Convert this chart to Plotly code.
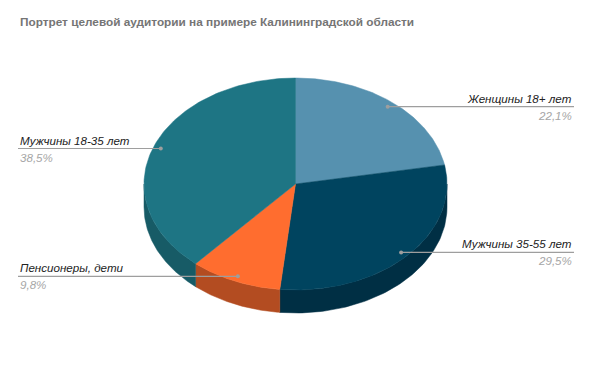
import numpy as np
import plotly.graph_objects as go

title = "Портрет целевой аудитории на примере Калининградской области"
labels = ["Женщины 18+ лет", "Мужчины 35-55 лет", "Пенсионеры, дети", "Мужчины 18-35 лет"]
values = [22.1, 29.5, 9.8, 38.5]
pct_text = ["22,1%", "29,5%", "9,8%", "38,5%"]
top_colors = ["#5691af", "#00445f", "#ff6d2f", "#1e7584"]
side_colors = ["#3f6f88", "#002f44", "#b34c21", "#175b66"]

W, H = 591, 365
cx, cy, rx, ry, depth = 295.5, 184, 151.5, 106, 23
label_r = 0.95
left_x, right_x = 18, 574


def pt(t_deg, r=1.0, dy=0.0):
    t = np.radians(t_deg)
    return cx + r * rx * np.sin(t), cy - r * ry * np.cos(t) + dy


fig = go.Figure()
total = sum(values)
angles = np.concatenate([[0], np.cumsum(values) / total * 360])

# side walls (front half only)
for i in range(len(values)):
    a, b = max(angles[i], 90), min(angles[i + 1], 270)
    if b <= a:
        continue
    ts = np.linspace(a, b, 80)
    xs_t, ys_t = pt(ts)
    xs_b, ys_b = pt(ts[::-1], dy=depth)
    xs = np.concatenate([xs_t, xs_b, [xs_t[0]]])
    ys = np.concatenate([ys_t, ys_b, [ys_t[0]]])
    fig.add_trace(go.Scatter(x=xs, y=ys, fill="toself", fillcolor=side_colors[i], mode="lines",
                             line=dict(color=side_colors[i], width=0.5), hoverinfo="skip", showlegend=False))

# top faces
for i in range(len(values)):
    ts = np.linspace(angles[i], angles[i + 1], 120)
    xs, ys = pt(ts)
    xs = np.concatenate([[cx], xs, [cx]])
    ys = np.concatenate([[cy], ys, [cy]])
    fig.add_trace(go.Scatter(x=xs, y=ys, fill="toself", fillcolor=top_colors[i], mode="lines",
                             line=dict(color=top_colors[i], width=0.5), hoverinfo="skip", showlegend=False))

annotations = []
for i in range(len(values)):
    mid = (angles[i] + angles[i + 1]) / 2
    dx, dy = pt(mid, r=label_r)
    right = np.sin(np.radians(mid)) > 0
    ex = right_x if right else left_x
    fig.add_trace(go.Scatter(x=[dx, ex], y=[dy, dy], mode="lines", line=dict(color="#9e9e9e", width=1.2),
                             hoverinfo="skip", showlegend=False))
    fig.add_trace(go.Scatter(x=[dx], y=[dy], mode="markers", marker=dict(color="#9e9e9e", size=4),
                             hoverinfo="skip", showlegend=False))
    xa = "right" if right else "left"
    annotations.append(dict(x=ex, y=dy, xref="x", yref="y", text=f"<i>{labels[i]}</i>", showarrow=False,
                            xanchor=xa, yanchor="bottom", yshift=0,
                            font=dict(family="Liberation Sans, Arial", size=11.6, color="#222222")))
    annotations.append(dict(x=ex, y=dy, xref="x", yref="y", text=f"<i>{pct_text[i]}</i>", showarrow=False,
                            xanchor=xa, yanchor="top", yshift=0,
                            font=dict(family="Liberation Sans, Arial", size=11.6, color="#a6a6a6")))

annotations.append(dict(x=18, y=22, xref="x", yref="y", text=f"<b>{title}</b>", showarrow=False,
                        xanchor="left", yanchor="middle",
                        font=dict(family="Liberation Sans, Arial", size=11.8, color="#757575")))

fig.update_layout(
    width=W, height=H, autosize=False,
    margin=dict(l=0, r=0, t=0, b=0),
    paper_bgcolor="white", plot_bgcolor="white",
    xaxis=dict(range=[0, W], visible=False, fixedrange=True),
    yaxis=dict(range=[H, 0], visible=False, fixedrange=True),
    annotations=annotations,
    showlegend=False,
)

fig.write_html("out.html", config={"displayModeBar": False})
